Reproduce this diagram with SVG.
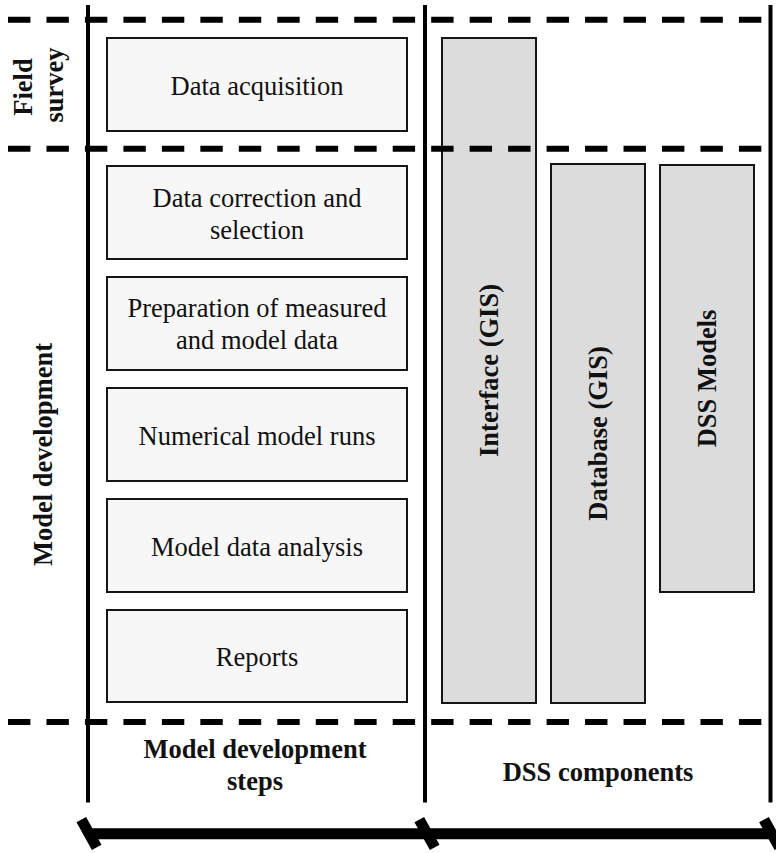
<svg xmlns="http://www.w3.org/2000/svg" width="776" height="853" viewBox="0 0 776 853">
  <style>
    .step { fill: #f7f7f7; stroke: #151515; stroke-width: 2; }
    .comp { fill: #dcdcdc; stroke: #151515; stroke-width: 2; }
    .t { font-family: "Liberation Serif", "Times New Roman", serif; font-size: 26.5px; fill: #111; text-anchor: middle; }
    .b { font-weight: bold; }
    .dash { stroke: #000; stroke-width: 6; stroke-dasharray: 22.4 16.07; fill: none; }
    .rule { stroke: #000; stroke-width: 4; fill: none; }
    .bar { stroke: #000; stroke-width: 11; fill: none; }
  </style>

  <!-- column rules -->
  <g id="frame">
    <line class="rule" x1="88" y1="5" x2="88" y2="802.5"/>
    <line class="rule" x1="425" y1="5" x2="425" y2="802.5"/>
    <line class="rule" x1="770.5" y1="5" x2="770.5" y2="802.5"/>
  </g>

  <!-- row labels -->
  <g id="label-field-survey">
    <text class="t b" transform="translate(32,87) rotate(-90)">Field</text>
    <text class="t b" transform="translate(63,85) rotate(-90)">survey</text>
  </g>
  <g id="label-model-development">
    <text class="t b" transform="translate(51.5,454.5) rotate(-90)">Model development</text>
  </g>

  <!-- model development steps -->
  <g id="step-acquisition">
    <rect class="step" x="107" y="38" width="300" height="93"/>
    <text class="t" x="257" y="95">Data acquisition</text>
  </g>
  <g id="step-correction">
    <rect class="step" x="107" y="166" width="300" height="93"/>
    <text class="t" x="257" y="206.5">Data correction and</text>
    <text class="t" x="257" y="239">selection</text>
  </g>
  <g id="step-preparation">
    <rect class="step" x="107" y="277" width="300" height="93"/>
    <text class="t" x="257" y="316.5">Preparation of measured</text>
    <text class="t" x="257" y="349">and model data</text>
  </g>
  <g id="step-runs">
    <rect class="step" x="107" y="388" width="300" height="93"/>
    <text class="t" x="257" y="445">Numerical model runs</text>
  </g>
  <g id="step-analysis">
    <rect class="step" x="107" y="499" width="300" height="93"/>
    <text class="t" x="257" y="555.5">Model data analysis</text>
  </g>
  <g id="step-reports">
    <rect class="step" x="107" y="610" width="300" height="92"/>
    <text class="t" x="257" y="666">Reports</text>
  </g>

  <!-- DSS components -->
  <g id="comp-interface">
    <rect class="comp" x="442" y="38" width="94" height="665"/>
    <text class="t b" transform="translate(498,370.5) rotate(-90)">Interface (GIS)</text>
  </g>
  <g id="comp-database">
    <rect class="comp" x="551" y="164" width="94" height="539"/>
    <text class="t b" transform="translate(607,433.5) rotate(-90)">Database (GIS)</text>
  </g>
  <g id="comp-models">
    <rect class="comp" x="660" y="165" width="94" height="427"/>
    <text class="t b" transform="translate(716,378.5) rotate(-90)">DSS Models</text>
  </g>

  <!-- row separators -->
  <g id="separators">
    <line class="dash" x1="8" y1="19.7" x2="762" y2="19.7"/>
    <line class="dash" x1="8" y1="148.7" x2="762" y2="148.7"/>
    <line class="dash" x1="8" y1="722" x2="762" y2="722"/>
  </g>

  <!-- column captions -->
  <g id="caption-steps">
    <text class="t b" x="255" y="758">Model development</text>
    <text class="t b" x="255" y="790">steps</text>
  </g>
  <g id="caption-components">
    <text class="t b" x="598" y="780.5">DSS components</text>
  </g>

  <!-- span bar with ticks -->
  <g id="span">
    <line class="bar" x1="89" y1="833.8" x2="771" y2="833.8"/>
    <line class="bar" x1="81.3" y1="819.6" x2="96.7" y2="847.4"/>
    <line class="bar" x1="419.3" y1="819.6" x2="434.7" y2="847.4"/>
    <line class="bar" x1="764" y1="819.6" x2="779.4" y2="847.4"/>
  </g>
</svg>
